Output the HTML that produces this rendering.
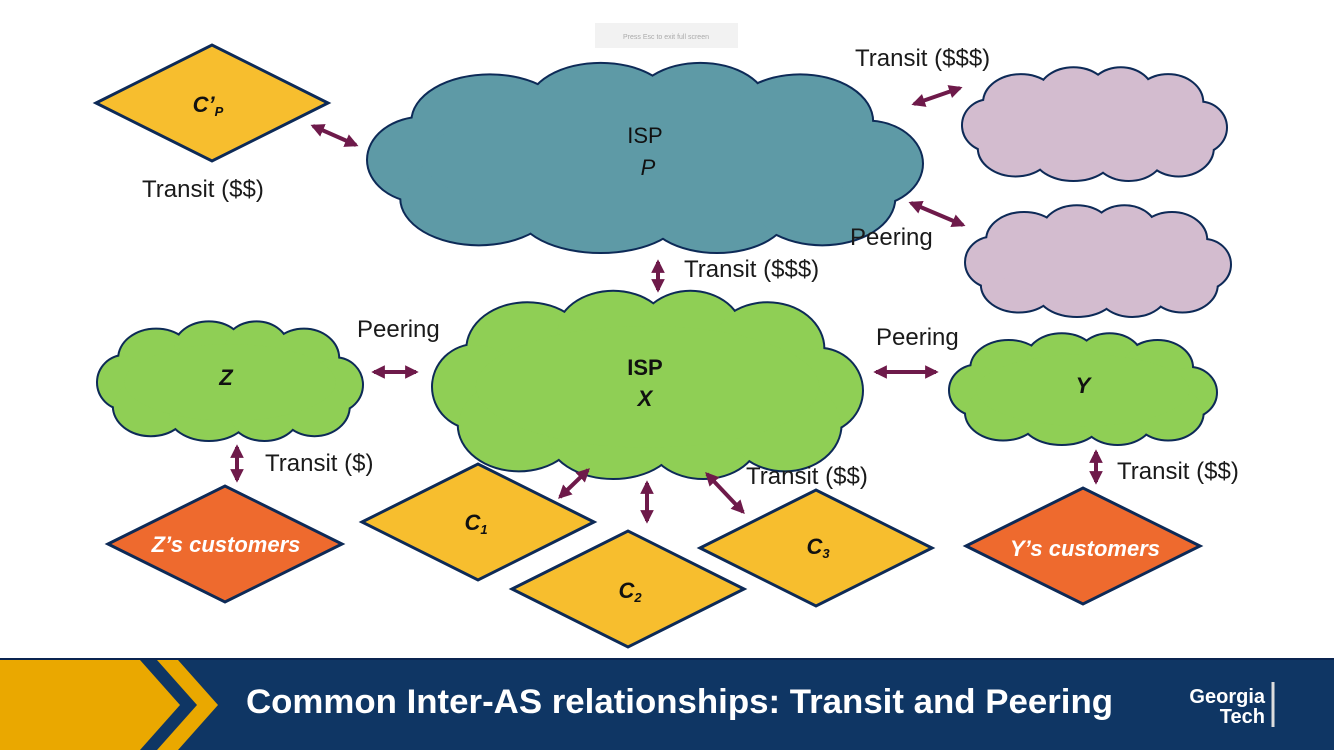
<!DOCTYPE html>
<html><head><meta charset="utf-8"><style>
body{margin:0;width:1334px;height:750px;overflow:hidden;background:#fff;font-family:"Liberation Sans",Arial,sans-serif}
</style></head><body>
<svg width="1334" height="750" xmlns="http://www.w3.org/2000/svg" style="position:absolute;left:0;top:0">
<defs>
<g id="cs">
<ellipse vector-effect="non-scaling-stroke" cx="22" cy="16" rx="14" ry="12"/><ellipse vector-effect="non-scaling-stroke" cx="42" cy="12" rx="13" ry="11"/><ellipse vector-effect="non-scaling-stroke" cx="60" cy="12" rx="12" ry="11"/><ellipse vector-effect="non-scaling-stroke" cx="78" cy="16" rx="13" ry="12"/>
<ellipse vector-effect="non-scaling-stroke" cx="10" cy="26" rx="10" ry="11"/><ellipse vector-effect="non-scaling-stroke" cx="90" cy="27" rx="10" ry="11"/>
<ellipse vector-effect="non-scaling-stroke" cx="20" cy="36" rx="14" ry="12"/><ellipse vector-effect="non-scaling-stroke" cx="42" cy="39" rx="15" ry="11"/><ellipse vector-effect="non-scaling-stroke" cx="63" cy="39" rx="13" ry="11"/><ellipse vector-effect="non-scaling-stroke" cx="82" cy="36" rx="13" ry="12"/>
<ellipse vector-effect="non-scaling-stroke" cx="50" cy="26" rx="40" ry="16"/>
</g>
<marker id="ah" viewBox="0 0 10 10" refX="8" refY="5" markerWidth="3.4" markerHeight="3.4" orient="auto-start-reverse"><path d="M0,0L10,5L0,10z" fill="#6e1a4a"/></marker>
</defs>
<rect x="595" y="23" width="143" height="25" fill="#f2f2f2"/>
<text x="666" y="39" font-size="7" fill="#aaa" text-anchor="middle">Press  Esc  to exit full screen</text>

<use href="#cs" transform="translate(368,60) scale(5.54,3.84)" fill="#5e9aa6" stroke="#0d2a57" stroke-width="4"/>
<use href="#cs" transform="translate(368,60) scale(5.54,3.84)" fill="#5e9aa6" stroke="none"/>
<use href="#cs" transform="translate(963,66) scale(2.63,2.28)" fill="#d3bccf" stroke="#0d2a57" stroke-width="4"/>
<use href="#cs" transform="translate(963,66) scale(2.63,2.28)" fill="#d3bccf" stroke="none"/>
<use href="#cs" transform="translate(966,204) scale(2.64,2.24)" fill="#d3bccf" stroke="#0d2a57" stroke-width="4"/>
<use href="#cs" transform="translate(966,204) scale(2.64,2.24)" fill="#d3bccf" stroke="none"/>
<use href="#cs" transform="translate(433,288) scale(4.29,3.8)" fill="#8fcf55" stroke="#0d2a57" stroke-width="4"/>
<use href="#cs" transform="translate(433,288) scale(4.29,3.8)" fill="#8fcf55" stroke="none"/>
<use href="#cs" transform="translate(98,320) scale(2.64,2.4)" fill="#8fcf55" stroke="#0d2a57" stroke-width="4"/>
<use href="#cs" transform="translate(98,320) scale(2.64,2.4)" fill="#8fcf55" stroke="none"/>
<use href="#cs" transform="translate(950,332) scale(2.66,2.24)" fill="#8fcf55" stroke="#0d2a57" stroke-width="4"/>
<use href="#cs" transform="translate(950,332) scale(2.66,2.24)" fill="#8fcf55" stroke="none"/>

<g stroke="#0d2a57" stroke-width="3">
<polygon points="96,103 212,45 328,103 212,161" fill="#f7be2e"/>
<polygon points="108,544 225,486 342,544 225,602" fill="#ee6a2e"/>
<polygon points="362,522 478,464 594,522 478,580" fill="#f7be2e"/>
<polygon points="512,589 628,531 744,589 628,647" fill="#f7be2e"/>
<polygon points="700,548 816,490 932,548 816,606" fill="#f7be2e"/>
<polygon points="966,546 1083,488 1200,546 1083,604" fill="#ee6a2e"/>
</g>

<g stroke="#6e1a4a" stroke-width="4" marker-start="url(#ah)" marker-end="url(#ah)">
<line x1="313" y1="126" x2="356" y2="145"/>
<line x1="914" y1="104" x2="960" y2="88"/>
<line x1="911" y1="203" x2="963" y2="225"/>
<line x1="658" y1="262" x2="658" y2="290"/>
<line x1="374" y1="372" x2="416" y2="372"/>
<line x1="876" y1="372" x2="936" y2="372"/>
<line x1="237" y1="447" x2="237" y2="480"/>
<line x1="1096" y1="452" x2="1096" y2="482"/>
<line x1="560" y1="497" x2="588" y2="470"/>
<line x1="647" y1="483" x2="647" y2="521"/>
<line x1="707" y1="474" x2="743" y2="512"/>
</g>

<g font-size="24" fill="#1a1a1a">
<text x="142" y="197">Transit ($$)</text>
<text x="855" y="66">Transit ($$$)</text>
<text x="850" y="245">Peering</text>
<text x="684" y="277">Transit ($$$)</text>
<text x="357" y="337">Peering</text>
<text x="876" y="345">Peering</text>
<text x="265" y="471">Transit ($)</text>
<text x="746" y="484">Transit ($$)</text>
<text x="1117" y="479">Transit ($$)</text>
</g>
<g font-size="22" fill="#111" text-anchor="middle" font-weight="bold">
<text x="645" y="143" font-weight="normal">ISP</text>
<text x="648" y="175" font-style="italic" font-weight="normal">P</text>
<text x="645" y="375">ISP</text>
<text x="645" y="406" font-style="italic">X</text>
<text x="226" y="385" font-style="italic">Z</text>
<text x="1083" y="393" font-style="italic">Y</text>
<text x="208" y="112" font-style="italic">C’<tspan font-size="13" dy="4">P</tspan></text>
<text x="476" y="530" font-style="italic">C<tspan font-size="13" dy="4">1</tspan></text>
<text x="630" y="598" font-style="italic">C<tspan font-size="13" dy="4">2</tspan></text>
<text x="818" y="554" font-style="italic">C<tspan font-size="13" dy="4">3</tspan></text>
<text x="226" y="552" fill="#fff" font-style="italic">Z’s customers</text>
<text x="1085" y="556" fill="#fff" font-style="italic">Y’s customers</text>
</g>

<rect x="0" y="658" width="1334" height="92" fill="#0f3664"/>
<rect x="0" y="658" width="1334" height="2" fill="#0a2450"/>
<polygon points="0,660 140,660 180,705 140,750 0,750" fill="#eaa800"/>
<polygon points="157,660 178,660 218,705 178,750 157,750 197,705" fill="#eaa800"/>
<text x="246" y="713" font-size="34" font-weight="bold" fill="#fff" textLength="867" lengthAdjust="spacingAndGlyphs">Common Inter-AS relationships: Transit and Peering</text>
<text x="1265" y="703" font-size="20" font-weight="bold" fill="#fff" text-anchor="end">Georgia</text>
<text x="1265" y="723" font-size="20" font-weight="bold" fill="#fff" text-anchor="end">Tech</text>
<line x1="1273" y1="682" x2="1273" y2="727" stroke="#ddd" stroke-width="3"/>
</svg>
</body></html>
